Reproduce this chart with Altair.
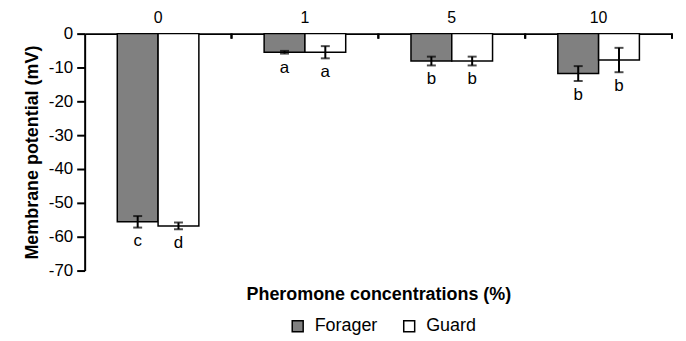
import altair as alt
import pandas as pd

conc = ["0", "1", "5", "10"]
groups = ["Forager", "Guard"]
forager_mean = [-55.6, -5.5, -8.1, -11.8]
forager_se = [1.7, 0.4, 1.3, 2.2]
guard_mean = [-56.8, -5.5, -8.1, -7.8]
guard_se = [1.0, 1.8, 1.3, 3.6]
forager_letters = ["c", "a", "b", "b"]
guard_letters = ["d", "a", "b", "b"]
y_ticks = [-70, -60, -50, -40, -30, -20, -10, 0]

rows = []
for i, c in enumerate(conc):
    rows.append(dict(conc=c, group="Forager", mean=forager_mean[i], se=forager_se[i], letter=forager_letters[i]))
    rows.append(dict(conc=c, group="Guard", mean=guard_mean[i], se=guard_se[i], letter=guard_letters[i]))
df = pd.DataFrame(rows)
df["lo"] = df["mean"] - df["se"]
df["hi"] = df["mean"] + df["se"]

FONT = "Liberation Sans"

x_top = alt.X("conc:N", sort=conc, title=None,
              scale=alt.Scale(paddingInner=0, paddingOuter=0),
              axis=alt.Axis(orient="top", labelAngle=0, ticks=False, domainWidth=2,
                            domainColor="black", labelFontSize=16, labelColor="black",
                            labelPadding=8, labelFont=FONT))
x_plain = alt.X("conc:N", sort=conc, title=None, axis=None)
x_off = alt.XOffset("group:N", sort=groups, scale=alt.Scale(paddingInner=0, paddingOuter=0.8))

y_scale = alt.Scale(domain=[-70, 0], nice=False)
y_axis = alt.Axis(values=y_ticks, tickCount=8, grid=False, domainWidth=2,
                  domainColor="black", tickColor="black", tickWidth=2, tickSize=8,
                  labelFontSize=17, labelColor="black", labelFont=FONT,
                  labelOverlap=False, labelExpr="replace(datum.label, '−', '-')",
                  titleFontSize=18, titleFont=FONT, titleFontWeight="bold",
                  titleColor="black", titlePadding=7, labelPadding=4)
YT = "Membrane potential (mV)"

def yq(field):
    return alt.Y(field + ":Q", title=YT, scale=y_scale, axis=y_axis)

base = alt.Chart(df)

bars = base.mark_bar(stroke="black", strokeWidth=1.5).encode(
    x=x_top, xOffset=x_off, y=yq("mean"),
    fill=alt.Fill("group:N", sort=groups,
                  scale=alt.Scale(domain=groups, range=["#808080", "#ffffff"]),
                  legend=alt.Legend(orient="none", legendX=205, legendY=285,
                                    direction="horizontal", title=None,
                                    symbolType="square", symbolSize=121,
                                    symbolStrokeColor="black", symbolStrokeWidth=1.5,
                                    labelFontSize=18, labelFont=FONT, labelColor="black",
                                    labelOffset=8, columnPadding=22, symbolOpacity=1,
                                    padding=0)),
)

err = base.mark_rule(color="black", strokeWidth=2).encode(
    x=x_plain, xOffset=x_off, y=yq("lo"), y2="hi:Q")
cap_lo = base.mark_tick(color="black", thickness=2, size=9).encode(
    x=x_plain, xOffset=x_off, y=yq("lo"))
cap_hi = base.mark_tick(color="black", thickness=2, size=9).encode(
    x=x_plain, xOffset=x_off, y=yq("hi"))

letters = base.mark_text(baseline="top", dy=6, fontSize=17, font=FONT, color="black").encode(
    x=alt.X("conc:N", sort=conc, title="Pheromone concentrations (%)",
            axis=alt.Axis(orient="bottom", labels=False, ticks=False, domain=False,
                          titleFontSize=18, titleFont=FONT, titleFontWeight="bold",
                          titleColor="black", titlePadding=15)),
    xOffset=x_off, y=yq("lo"), text="letter:N")

sep = base.mark_rule(color="black", strokeWidth=2).encode(
    x=alt.X("conc:N", sort=conc, bandPosition=1, title=None, axis=None),
    y=alt.datum(0), y2=alt.datum(-1.5))

chart = alt.layer(bars, err, cap_lo, cap_hi, sep, letters).resolve_axis(x="independent").properties(
    width=590, height=238,
    padding={"left": 15, "top": 1, "right": 5, "bottom": 2},
).configure_view(stroke=None)

chart.save("out.html", embed_options={"renderer": "svg", "actions": False})
